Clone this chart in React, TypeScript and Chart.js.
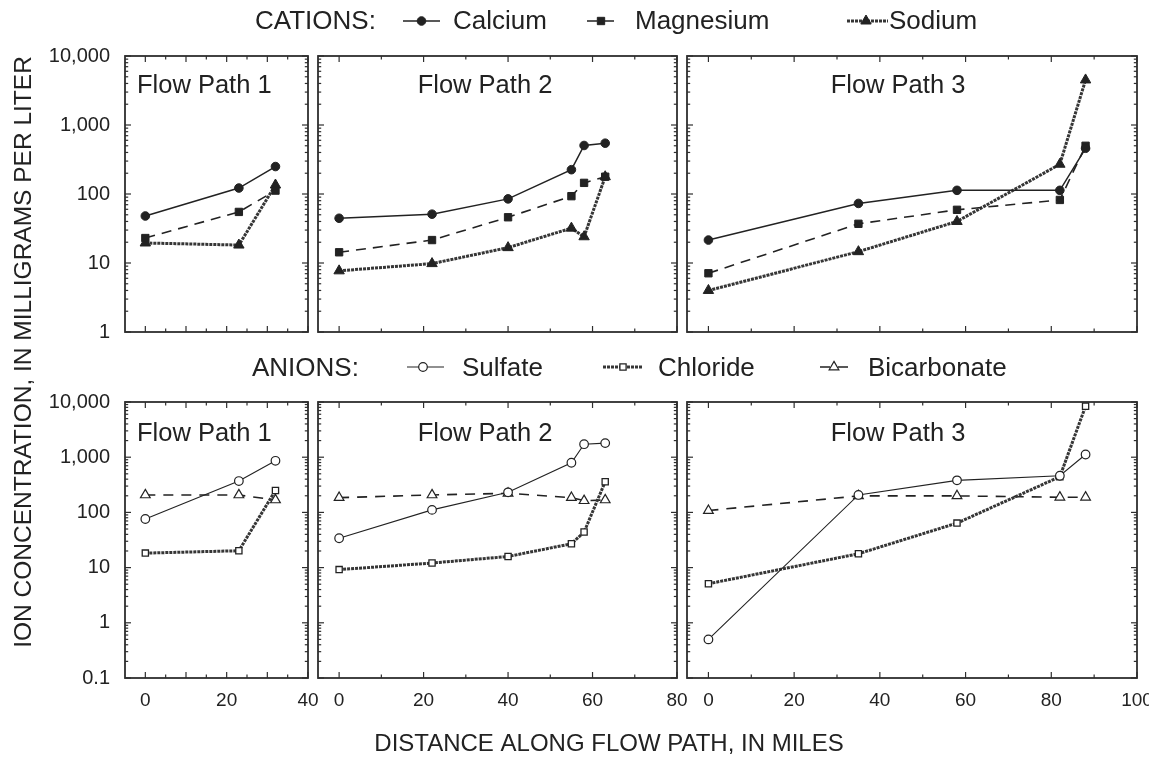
import React, { useEffect, useRef } from 'react';
import { Chart, registerables } from 'chart.js';
import { drawPoint } from 'chart.js/helpers';

Chart.register(...registerables);

// ---------------- data ----------------
const FP1_DISTANCE = [0, 23, 32];
const FP2_DISTANCE = [0, 22, 40, 55, 58, 63];
const FP3_DISTANCE = [0, 35, 58, 82, 88];

// cations (mg/L)
const FP1_CALCIUM = [48, 122, 250];
const FP1_MAGNESIUM = [23, 55, 112];
const FP1_SODIUM = [19.5, 18.2, 135];
const FP2_CALCIUM = [44.5, 51, 85, 225, 505, 545];
const FP2_MAGNESIUM = [14.3, 21.5, 46, 93, 145, 178];
const FP2_SODIUM = [7.7, 9.8, 16.7, 32, 24, 178];
const FP3_CALCIUM = [21.5, 73, 113, 113, 460];
const FP3_MAGNESIUM = [7.1, 37, 59, 82, 500];
const FP3_SODIUM = [4.0, 14.6, 40, 270, 4500];

// anions (mg/L)
const FP1_SULFATE = [76, 370, 860];
const FP1_CHLORIDE = [18.3, 20.2, 250];
const FP1_BICARBONATE = [207, 207, 168];
const FP2_SULFATE = [34, 111, 231, 793, 1720, 1800];
const FP2_CHLORIDE = [9.2, 12.1, 15.9, 27, 44, 360];
const FP2_BICARBONATE = [185, 207, 222, 185, 163, 168];
const FP3_SULFATE = [0.5, 207, 381, 461, 1120];
const FP3_CHLORIDE = [5.1, 17.8, 64, 443, 8400];
const FP3_BICARBONATE = [108, 199, 199, 188, 188];

const CATION_Y_TICKS = [1, 10, 100, 1000, 10000];
const ANION_Y_TICKS = [0.1, 1, 10, 100, 1000, 10000];
const FP1_X_TICKS = [0, 20, 40];
const FP2_X_TICKS = [0, 20, 40, 60, 80];
const FP3_X_TICKS = [0, 20, 40, 60, 80, 100];

const CATION_NAMES = ['Calcium', 'Magnesium', 'Sodium'];
const ANION_NAMES = ['Sulfate', 'Chloride', 'Bicarbonate'];
const PANEL_TITLES = ['Flow Path 1', 'Flow Path 2', 'Flow Path 3'];
const CATION_HEADING = 'CATIONS:';
const ANION_HEADING = 'ANIONS:';
const Y_TITLE = 'ION CONCENTRATION, IN MILLIGRAMS PER LITER';
const X_TITLE = 'DISTANCE ALONG FLOW PATH, IN MILES';

// ---------------- styles / layout ----------------
const W = 1149;
const H = 757;
const FONT = '"Liberation Sans", Arial, Helvetica, sans-serif';
const INK = '#222';
const FRAME = '#2e2e2e';

type SeriesStyle = { line: string; width: number; dash: number[]; point: string; r: number; fill: string; pbw: number };
const SERIES_STYLE: Record<string, SeriesStyle> = {
  Calcium: { line: INK, width: 1.5, dash: [], point: 'circle', r: 4.3, fill: INK, pbw: 1 },
  Magnesium: { line: INK, width: 1.6, dash: [10, 7], point: 'rect', r: 5.2, fill: INK, pbw: 1 },
  Sodium: { line: '#363636', width: 3, dash: [3, 1], point: 'triangle', r: 6, fill: INK, pbw: 1 },
  Sulfate: { line: INK, width: 1.1, dash: [], point: 'circle', r: 4.3, fill: '#fff', pbw: 1.2 },
  Chloride: { line: '#363636', width: 3, dash: [3, 1], point: 'rect', r: 4.4, fill: '#fff', pbw: 1.3 },
  Bicarbonate: { line: INK, width: 1.6, dash: [10, 8], point: 'triangle', r: 5.6, fill: '#fff', pbw: 1.2 },
};

const ROWS = [
  {
    top: 56, bottom: 332, yMin: 1, yTicks: CATION_Y_TICKS, names: CATION_NAMES, titleY: 86,
    values: [
      [FP1_CALCIUM, FP1_MAGNESIUM, FP1_SODIUM],
      [FP2_CALCIUM, FP2_MAGNESIUM, FP2_SODIUM],
      [FP3_CALCIUM, FP3_MAGNESIUM, FP3_SODIUM],
    ],
  },
  {
    top: 402, bottom: 678, yMin: 0.1, yTicks: ANION_Y_TICKS, names: ANION_NAMES, titleY: 434,
    values: [
      [FP1_SULFATE, FP1_CHLORIDE, FP1_BICARBONATE],
      [FP2_SULFATE, FP2_CHLORIDE, FP2_BICARBONATE],
      [FP3_SULFATE, FP3_CHLORIDE, FP3_BICARBONATE],
    ],
  },
];

const COLS = [
  { left: 125, right: 308, xMax: 40, minor: 5, major: 10, xTicks: FP1_X_TICKS, dist: FP1_DISTANCE, titleX: 137, align: 'left' as CanvasTextAlign },
  { left: 318, right: 677, xMax: 80, minor: 10, major: 20, xTicks: FP2_X_TICKS, dist: FP2_DISTANCE, titleX: 485, align: 'center' as CanvasTextAlign },
  { left: 687, right: 1137, xMax: 100, minor: 10, major: 20, xTicks: FP3_X_TICKS, dist: FP3_DISTANCE, titleX: 898, align: 'center' as CanvasTextAlign },
];

// legend layout: [headingX, y, items: [symbolStart, symbolEnd, markerX, textX]]
const LEGEND_ROWS = [
  { heading: CATION_HEADING, headingX: 255, y: 22, symY: 21, names: CATION_NAMES, items: [[403, 440, 421.5, 453], [587, 615, 601, 635], [847, 888, 866, 889]] },
  { heading: ANION_HEADING, headingX: 252, y: 369, symY: 367, names: ANION_NAMES, items: [[407, 444, 423, 462], [603, 642, 623, 658], [820, 848, 834, 868]] },
];

const Y_AXIS_W = 100;
const X_AXIS_H = 40;

function fmtY(v: number): string {
  if (v >= 1) return String(Math.round(v)).replace(/\B(?=(\d{3})+(?!\d))/g, ',');
  return String(v);
}

function line(ctx: CanvasRenderingContext2D, x1: number, y1: number, x2: number, y2: number) {
  ctx.beginPath();
  ctx.moveTo(x1, y1);
  ctx.lineTo(x2, y2);
  ctx.stroke();
}

function marker(ctx: CanvasRenderingContext2D, st: SeriesStyle, x: number, y: number) {
  ctx.save();
  ctx.setLineDash([]);
  ctx.fillStyle = st.fill;
  ctx.strokeStyle = INK;
  ctx.lineWidth = st.pbw;
  drawPoint(ctx, { pointStyle: st.point as any, radius: st.r, rotation: 0, borderWidth: st.pbw }, x, y);
  ctx.restore();
}

function buildConfig(ri: number, ci: number): any {
  const row = ROWS[ri];
  const col = COLS[ci];
  const showY = ci === 0;
  const showX = ri === 1;

  const datasets = row.names.map((name, si) => {
    const st = SERIES_STYLE[name];
    const vals = row.values[ci][si];
    return {
      label: name,
      data: col.dist.map((x, i) => ({ x, y: vals[i] })),
      borderColor: st.line,
      borderWidth: st.width,
      borderDash: st.dash,
      pointStyle: st.point,
      pointRadius: st.r,
      pointBackgroundColor: st.fill,
      pointBorderColor: INK,
      pointBorderWidth: st.pbw,
      tension: 0,
      fill: false,
      clip: 10,
    };
  });

  const framePlugin = {
    id: 'frame' + ri + ci,
    beforeDatasetsDraw(chart: any) {
      const ctx: CanvasRenderingContext2D = chart.ctx;
      const { left, right, top, bottom } = chart.chartArea;
      const xs = chart.scales.x;
      const ys = chart.scales.y;
      ctx.save();
      ctx.strokeStyle = FRAME;
      ctx.lineWidth = 1.2;
      for (let v = 0; v <= col.xMax; v += col.minor) {
        const px = xs.getPixelForValue(v);
        const len = v % col.major === 0 ? 6 : 3.5;
        line(ctx, px, bottom, px, bottom - len);
        line(ctx, px, top, px, top + len);
      }
      for (let d = row.yMin; d < 10000 * 1.001; d *= 10) {
        for (let m = 1; m <= 9; m++) {
          const v = m * d;
          if (v > 10000 * 1.001) break;
          const py = ys.getPixelForValue(v);
          const len = m === 1 ? 6 : 3.2;
          line(ctx, left, py, left + len, py);
          line(ctx, right, py, right - len, py);
        }
      }
      ctx.lineWidth = 1.8;
      ctx.strokeRect(left, top, right - left, bottom - top);
      ctx.restore();
    },
    afterDraw(chart: any) {
      const ctx: CanvasRenderingContext2D = chart.ctx;
      ctx.save();
      ctx.fillStyle = INK;
      ctx.font = `25.5px ${FONT}`;
      ctx.textAlign = col.align;
      ctx.textBaseline = 'middle';
      ctx.fillText(PANEL_TITLES[ci], col.titleX, row.titleY);
      ctx.restore();
    },
  };

  const plugins: any[] = [framePlugin];

  if (ri === 0 && ci === 0) {
    plugins.push({
      id: 'legendsAndTitles',
      afterDraw(chart: any) {
        const ctx: CanvasRenderingContext2D = chart.ctx;
        ctx.save();
        ctx.fillStyle = INK;
        ctx.textBaseline = 'middle';
        ctx.textAlign = 'left';
        ctx.font = `26px ${FONT}`;
        LEGEND_ROWS.forEach((lr) => {
          ctx.fillText(lr.heading, lr.headingX, lr.y);
          lr.names.forEach((name, i) => {
            const [x1, x2, mx, tx] = lr.items[i];
            const st = SERIES_STYLE[name];
            ctx.save();
            ctx.strokeStyle = st.line;
            ctx.lineWidth = st.width;
            ctx.setLineDash(st.dash);
            line(ctx, x1, lr.symY, x2, lr.symY);
            ctx.restore();
            marker(ctx, st, mx, lr.symY);
            ctx.fillStyle = INK;
            ctx.fillText(name, tx, lr.y);
          });
        });
        // axis titles
        ctx.font = `24px ${FONT}`;
        ctx.textAlign = 'center';
        ctx.fillText(X_TITLE, 609, 744);
        ctx.save();
        ctx.translate(24, 352);
        ctx.rotate(-Math.PI / 2);
        ctx.font = `24.5px ${FONT}`;
        ctx.fillText(Y_TITLE, 0, 0);
        ctx.restore();
        ctx.restore();
      },
    });
  }

  return {
    type: 'line',
    data: { datasets },
    plugins,
    options: {
      responsive: false,
      animation: false,
      devicePixelRatio: 1,
      events: [],
      layout: {
        padding: {
          left: col.left - (showY ? Y_AXIS_W : 0),
          right: W - col.right,
          top: row.top,
          bottom: H - row.bottom - (showX ? X_AXIS_H : 0),
        },
      },
      plugins: { legend: { display: false }, tooltip: { enabled: false }, title: { display: false } },
      scales: {
        x: {
          type: 'linear',
          min: -5,
          max: col.xMax,
          display: showX,
          grid: { display: false, drawTicks: false },
          border: { display: false },
          ticks: {
            color: INK,
            font: { family: FONT, size: 19 },
            padding: 11,
            maxRotation: 0,
            autoSkip: false,
            callback: (v: any) => String(v),
          },
          afterBuildTicks: (s: any) => {
            s.ticks = col.xTicks.map((v) => ({ value: v }));
          },
          afterFit: showX
            ? (s: any) => {
                s.height = X_AXIS_H;
                s.paddingLeft = 0;
                s.paddingRight = 0;
              }
            : undefined,
        },
        y: {
          type: 'logarithmic',
          min: row.yMin,
          max: 10000,
          display: showY,
          grid: { display: false, drawTicks: false },
          border: { display: false },
          ticks: {
            color: INK,
            font: { family: FONT, size: 20 },
            padding: 15,
            autoSkip: false,
            callback: (v: any) => fmtY(Number(v)),
          },
          afterBuildTicks: (s: any) => {
            s.ticks = row.yTicks.map((v) => ({ value: v }));
          },
          afterFit: showY
            ? (s: any) => {
                s.width = Y_AXIS_W;
                s.paddingTop = 0;
                s.paddingBottom = 0;
              }
            : undefined,
        },
      },
    },
  };
}

export default function App() {
  const refs = useRef<(HTMLCanvasElement | null)[]>([]);

  useEffect(() => {
    const charts: Chart[] = [];
    let k = 0;
    ROWS.forEach((_, ri) => {
      COLS.forEach((__, ci) => {
        const canvas = refs.current[k++];
        if (canvas) charts.push(new Chart(canvas, buildConfig(ri, ci)));
      });
    });
    return () => charts.forEach((c) => c.destroy());
  }, []);

  return (
    <div style={{ position: 'absolute', left: 0, top: 0, width: W, height: H, background: '#fff', overflow: 'hidden' }}>
      {Array.from({ length: 6 }).map((_, i) => (
        <canvas
          key={i}
          ref={(el) => {
            refs.current[i] = el;
          }}
          width={W}
          height={H}
          style={{ position: 'absolute', left: 0, top: 0, width: W, height: H }}
        />
      ))}
    </div>
  );
}
